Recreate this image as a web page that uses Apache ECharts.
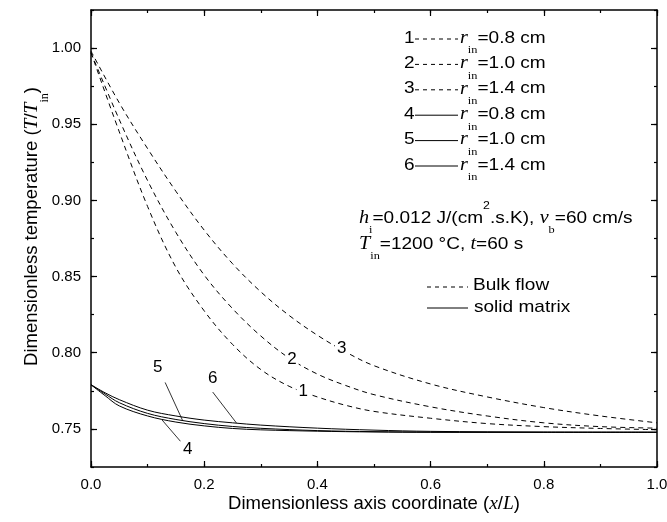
<!DOCTYPE html>
<html><head><meta charset="utf-8">
<script src="https://cdn.jsdelivr.net/npm/echarts@6/dist/echarts.min.js"></script>
<style>html,body{margin:0;padding:0;background:#fff}#c{width:667px;height:522px}</style>
</head><body><div id="c"></div>
<script>
// ---- data ----
const xBulk = [0, 0.05, 0.1, 0.15, 0.2, 0.25, 0.3, 0.35, 0.4, 0.45, 0.5, 0.6, 0.7, 0.8, 0.9, 1.0];
const bulk1 = [0.997, 0.945, 0.896, 0.856, 0.8275, 0.8055, 0.789, 0.778, 0.771, 0.7655, 0.7615, 0.757, 0.7535, 0.7515, 0.7503, 0.7495];
const bulk2 = [0.997, 0.953, 0.913, 0.879, 0.851, 0.829, 0.811, 0.7965, 0.786, 0.7785, 0.7725, 0.7645, 0.7585, 0.754, 0.7515, 0.7505];
const bulk3 = [0.998, 0.964, 0.934, 0.906, 0.8805, 0.8585, 0.840, 0.8245, 0.8115, 0.8005, 0.7915, 0.7795, 0.771, 0.764, 0.7585, 0.754];
const xSolid = [0, 0.025, 0.05, 0.1, 0.15, 0.2, 0.25, 0.3, 0.4, 0.5, 0.6, 0.8, 1.0];
const solid4 = [0.779, 0.7718, 0.7651, 0.7585, 0.7545, 0.7520, 0.7503, 0.7494, 0.7485, 0.748, 0.7478, 0.7478, 0.7478];
const solid5 = [0.779, 0.7729, 0.7672, 0.7602, 0.7562, 0.7535, 0.7516, 0.7504, 0.7489, 0.7482, 0.7479, 0.7478, 0.7478];
const solid6 = [0.779, 0.7737, 0.7692, 0.7623, 0.7585, 0.7558, 0.7540, 0.7525, 0.7505, 0.7492, 0.7484, 0.7479, 0.7478];
const yMajorTicks = [0.75, 0.80, 0.85, 0.90, 0.95, 1.00];
const legendNums = ['1', '2', '3', '4', '5', '6'];
const legendR = ['0.8', '1.0', '1.4', '0.8', '1.0', '1.4'];
const legendDashed = [true, true, true, false, false, false];
// curve labels [x, y, text]
const curveLabels = [[0.375, 0.7746, '1'], [0.355, 0.796, '2'], [0.443, 0.803, '3']];
const leaderLabels = [[0.171, 0.7365, '4'], [0.118, 0.7907, '5'], [0.215, 0.7834, '6']];
const leaderLines = [[[0.125, 0.7561], [0.158, 0.7419]], [[0.131, 0.7805], [0.162, 0.7554]], [[0.215, 0.7742], [0.257, 0.7539]]];

const SANS = 'Liberation Sans, Arial, sans-serif';
const SERIF = 'Liberation Serif, Times New Roman, serif';
const DASH = [5, 4];

function pairs(xs, ys) { return xs.map((x, i) => [x, ys[i]]); }

function rich(fs) {
  return {
    i: { fontFamily: SERIF, fontStyle: 'italic', fontSize: fs + 1, fill: '#000', color: '#000', lineHeight: 2 * fs + 2 },
    s: { fontFamily: SERIF, fontSize: Math.round(fs * 0.65), fill: '#000', color: '#000', lineHeight: 10, verticalAlign: 'bottom' },
    p: { fontFamily: SANS, fontSize: Math.round(fs * 0.62), fill: '#000', color: '#000', lineHeight: fs + 5, verticalAlign: 'top' },
    n: { fontFamily: SANS, fontSize: fs, fill: '#000', color: '#000', lineHeight: 2 * fs + 2 }
  };
}

const chart = echarts.init(document.getElementById('c'), null, { renderer: 'canvas' });

const axisLineStyle = { color: '#000', width: 1.5 };
const tickStyle = { color: '#000', width: 1.2 };

function mkX(pos, major, labels) {
  return {
    type: 'value', min: 0, max: 1, interval: major ? 0.2 : 0.1, position: pos,
    axisLine: { show: major, onZero: false, lineStyle: axisLineStyle },
    axisTick: { show: true, inside: true, length: major ? 6 : 3, lineStyle: tickStyle },
    axisLabel: { show: labels, formatter: v => v.toFixed(1), color: '#000', fontSize: 15, fontFamily: SANS, margin: 10 },
    splitLine: { show: false },
    name: labels ? '{n|Dimensionless axis coordinate (}{i|x}{n|/}{i|L}{n|)}' : '',
    nameLocation: 'middle', nameGap: 17, nameMoveOverlap: false,
    nameTextStyle: { rich: rich(18.5) }
  };
}
function mkY(pos, major, labels) {
  const a = {
    type: 'value', min: 0.725, max: 1.025, position: pos,
    axisLine: { show: major, onZero: false, lineStyle: axisLineStyle },
    axisTick: { show: true, inside: true, length: major ? 6 : 3, lineStyle: tickStyle },
    axisLabel: { show: labels, formatter: v => v.toFixed(2), color: '#000', fontSize: 15, fontFamily: SANS, margin: 10 },
    splitLine: { show: false },
    name: labels ? '{n|Dimensionless temperature (}{i|T}{n|/}{i|T}{s|in}{n|)}' : '',
    nameLocation: 'middle', nameGap: 40, nameRotate: 90, nameMoveOverlap: false,
    nameTextStyle: { rich: rich(18.5), padding: [0, 0, 0, 24] }
  };
  if (major) {
    a.axisTick.customValues = yMajorTicks;
    a.axisLabel.customValues = yMajorTicks;
  } else {
    a.interval = 0.025;
  }
  return a;
}

function lineSeries(xs, ys, dashed) {
  return {
    type: 'line', data: pairs(xs, ys), xAxisIndex: 0, yAxisIndex: 0,
    showSymbol: false, symbol: 'none', smooth: 0.35,
    lineStyle: { color: '#000', width: 1, type: dashed ? DASH : 'solid' },
    silent: true
  };
}

function labelMP(lbl) {
  return {
    symbol: 'rect', symbolSize: [1, 1], itemStyle: { color: 'rgba(0,0,0,0)' }, silent: true,
    label: { show: true, position: 'inside', formatter: '{b}', color: '#000', fontSize: 17, fontFamily: SANS, backgroundColor: '#fff', padding: [0, 2] },
    data: [{ name: lbl[2], coord: [lbl[0], lbl[1]] }]
  };
}

const series = [
  lineSeries(xBulk, bulk1, true),
  lineSeries(xBulk, bulk2, true),
  lineSeries(xBulk, bulk3, true),
  lineSeries(xSolid, solid4, false),
  lineSeries(xSolid, solid5, false),
  lineSeries(xSolid, solid6, false)
];
for (let k = 0; k < 3; k++) series[k].markPoint = labelMP(curveLabels[k]);
for (let k = 0; k < 3; k++) {
  const s = series[3 + k];
  s.markPoint = labelMP(leaderLabels[k]);
  s.markLine = {
    silent: true, symbol: ['none', 'none'], label: { show: false },
    lineStyle: { color: '#000', type: 'solid', width: 0.8 },
    data: [[{ coord: leaderLines[k][0] }, { coord: leaderLines[k][1] }]]
  };
}

// annotation graphics
const FS = 17, SX = 1.12;
const R = rich(FS);
const graphics = [];
const rowY0 = 38, rowDy = 25.4;
function txt(x, y, text) {
  return { type: 'text', x: x, y: y, scaleX: SX, style: { text: text, rich: R, verticalAlign: 'middle' } };
}
for (let i = 0; i < 6; i++) {
  const y = rowY0 + i * rowDy;
  graphics.push(txt(404, y, '{n|' + legendNums[i] + '}'));
  graphics.push({ type: 'line', shape: { x1: 415, y1: y + 1, x2: 458, y2: y + 1 }, style: { stroke: '#000', lineWidth: 1, lineDash: legendDashed[i] ? [4, 4] : null } });
  graphics.push(txt(460, y, '{i|r}{s|in}{n|=' + legendR[i] + ' cm}'));
}
graphics.push(txt(359, 218, '{i|h}{s|i}{n|=0.012 J/(cm}{p|2}{n|.s.K), }{i|v}{s|b}{n|=60 cm/s}'));
graphics.push(txt(359, 244, '{i|T}{s|in}{n|=1200 °C, }{i|t}{n|=60 s}'));
graphics.push({ type: 'line', shape: { x1: 427, y1: 287, x2: 468, y2: 287 }, style: { stroke: '#000', lineWidth: 1, lineDash: [4, 4] } });
graphics.push(txt(473, 285, '{n|Bulk flow}'));
graphics.push({ type: 'line', shape: { x1: 427, y1: 308, x2: 468, y2: 308 }, style: { stroke: '#000', lineWidth: 1 } });
graphics.push(txt(474, 307, '{n|solid matrix}'));

chart.setOption({
  animation: false,
  backgroundColor: '#fff',
  grid: { left: 91, right: 10, top: 10, bottom: 55, containLabel: false, outerBoundsMode: 'none' },
  xAxis: [mkX('bottom', true, true), mkX('bottom', false, false), mkX('top', true, false), mkX('top', false, false)],
  yAxis: [mkY('left', true, true), mkY('left', false, false), mkY('right', true, false), mkY('right', false, false)],
  series: series,
  graphic: graphics
});
</script></body></html>
